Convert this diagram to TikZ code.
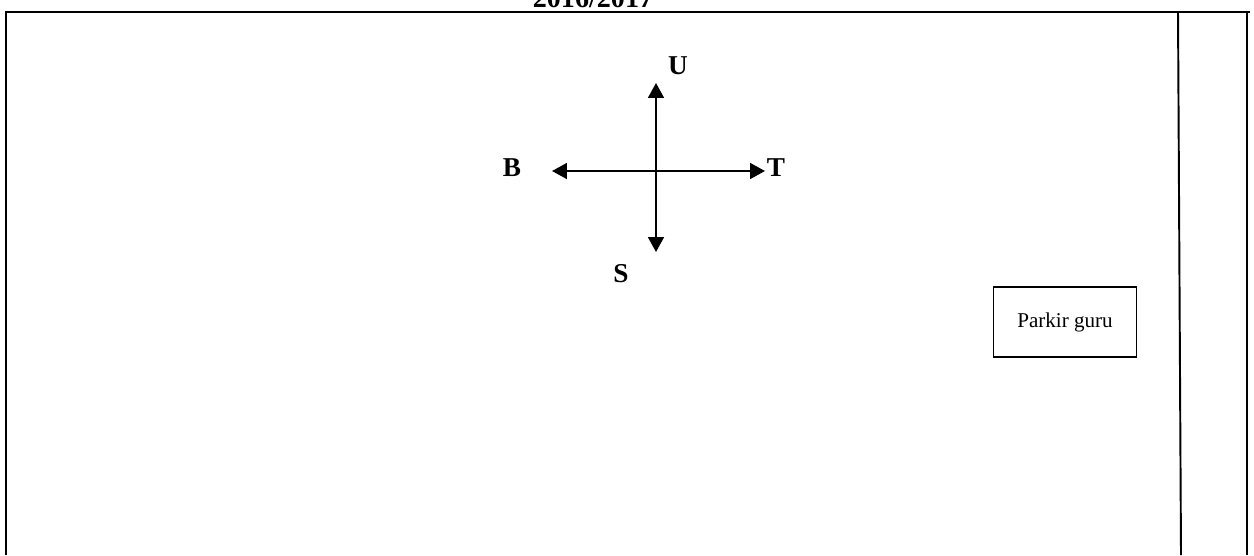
\documentclass[tikz,border=0pt]{standalone}
\usepackage{fontspec}
\setmainfont{Liberation Serif}
\usepackage{tikz}
\usetikzlibrary{arrows.meta, positioning}
\definecolor{mydark}{RGB}{0,0,0}
\tikzset{
  frame/.style={line width=1.1pt, color=mydark},
  arah/.style={-{Triangle[length=8.5pt, width=9pt]}, line width=1.2pt, color=mydark},
  mata/.style={font=\fontsize{15.5}{18}\selectfont\bfseries, inner sep=0pt},
  parkir/.style={rectangle, draw=mydark, line width=0.9pt,
    minimum width=2.86cm, minimum height=1.4cm, font=\fontsize{12}{14}\selectfont}
}

\begin{document}
\begin{tikzpicture}[x=0.02cm, y=-0.02cm]
  \useasboundingbox (0,0) rectangle (1254,555);
  \clip (0,0) rectangle (1254,555);

  % judul (terpotong di atas)
  \node[mata, font=\fontsize{16}{18}\selectfont\bfseries, anchor=base] (tahun) at (593,7) {2016/2017};

  % bingkai denah
  \draw[frame] (6,555) -- (6,12) -- (1250,12);
  \draw[frame] (1178,12) -- (1181,555);
  \draw[frame] (1247,12) -- (1247,555);

  % arah mata angin
  \coordinate (pusat) at (656,171);
  \coordinate (utara) at (656,83);
  \coordinate (selatan) at (656,252);
  \coordinate (barat) at (552,171);
  \coordinate (timur) at (765,171);
  \draw[arah] (pusat) -- (utara);
  \draw[arah] (pusat) -- (selatan);
  \draw[arah] (pusat) -- (barat);
  \draw[arah] (pusat) -- (timur);
  \node[mata] (U) at (678,66) {U};
  \node[mata] (B) at (512,168) {B};
  \node[mata] (T) at (776,168) {T};
  \node[mata] (S) at (621,274) {S};

  % parkir
  \node[parkir] (guru) at (1065,322) {Parkir guru};
\end{tikzpicture}
\end{document}
